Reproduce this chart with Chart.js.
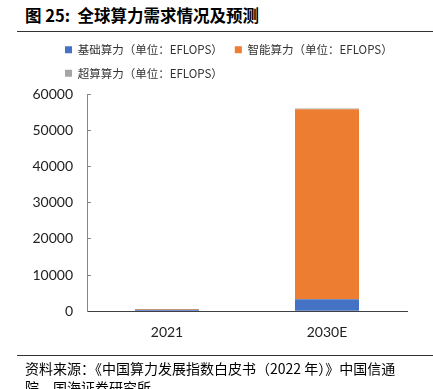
<!DOCTYPE html>
<html>
<head>
<meta charset="utf-8">
<script src="https://cdn.jsdelivr.net/npm/chart.js@4"></script>
<style>
  body { margin: 0; width: 433px; height: 389px; background: #fff; position: relative; overflow: hidden; }
  .title { position: absolute; left: 25px; top: 3px; font: bold 16.5px "Noto Sans CJK SC", sans-serif; color: #000; }
  .rule { position: absolute; left: 17px; right: 0; height: 1px; background: #333; }
  .source { position: absolute; left: 25px; top: 359px; width: 395px; font: 14px "Noto Sans CJK SC", sans-serif; color: #000; line-height: 19px; }
  #wrap { position: absolute; left: 0; top: 32px; width: 433px; height: 324px; }
</style>
</head>
<body>
<div class="title">图 25:&nbsp; 全球算力需求情况及预测</div>
<div class="rule" style="top:31px"></div>
<div id="wrap"><canvas id="myChart"></canvas></div>
<div class="rule" style="top:355px"></div>
<div class="source">资料来源：《中国算力发展指数白皮书（2022 年）》中国信通院、国海证券研究所</div>
<script>
const years = ['2021', '2030E'];
const basic = [369, 3300];      // 基础算力
const smart = [232, 52500];     // 智能算力
const hpc = [14, 200];          // 超算算力
const yMax = 60000;
const yStep = 10000;

// y labels stick out left of the narrow axis box, so don't let them get clipped
const unclipY = {
    id: 'unclipY',
    afterLayout: function (chart) { chart.scales.y.left = 0; }
};

var ctx = document.getElementById('myChart').getContext('2d');
var myChart = new Chart(ctx, {
    type: 'bar',
    data: {
        labels: years,
        datasets: [
            { label: '基础算力（单位：EFLOPS）', data: basic, backgroundColor: '#4472C4' },
            { label: '智能算力（单位：EFLOPS）', data: smart, backgroundColor: '#ED7D31' },
            { label: '超算算力（单位：EFLOPS）', data: hpc, backgroundColor: '#A5A5A5' }
        ]
    },
    plugins: [unclipY],
    options: {
        responsive: true,
        maintainAspectRatio: false,
        animation: false,
        layout: { padding: { left: 53, right: 26, top: 0, bottom: 2 } },
        datasets: { bar: { barPercentage: 0.4, categoryPercentage: 1 } },
        plugins: {
            legend: {
                align: 'start',
                weight: 3000,
                labels: {
                    boxWidth: 7,
                    boxHeight: 7,
                    padding: 12,
                    color: '#333',
                    font: { family: '"Noto Sans CJK SC"', size: 11.5 }
                }
            },
            // empty spacer between legend and plot
            subtitle: { display: true, text: '', padding: 0, font: { size: 5, lineHeight: 1 } },
            tooltip: { enabled: false }
        },
        scales: {
            x: {
                stacked: true,
                grid: { display: false, drawTicks: false },
                border: { color: '#404040', width: 1 },
                ticks: { padding: 13, color: '#222', font: { family: 'Lato', size: 14 } }
            },
            y: {
                stacked: true,
                min: 0,
                max: yMax,
                afterFit: function (scale) { scale.width = 34; },
                grid: { drawOnChartArea: false, tickLength: -4, color: '#868686' },
                border: { color: '#868686', width: 1 },
                ticks: {
                    stepSize: yStep,
                    padding: 18,
                    color: '#222',
                    font: { family: 'Lato', size: 14 },
                    callback: function (v) { return String(v); }
                }
            }
        }
    }
});
</script>
</body>
</html>
